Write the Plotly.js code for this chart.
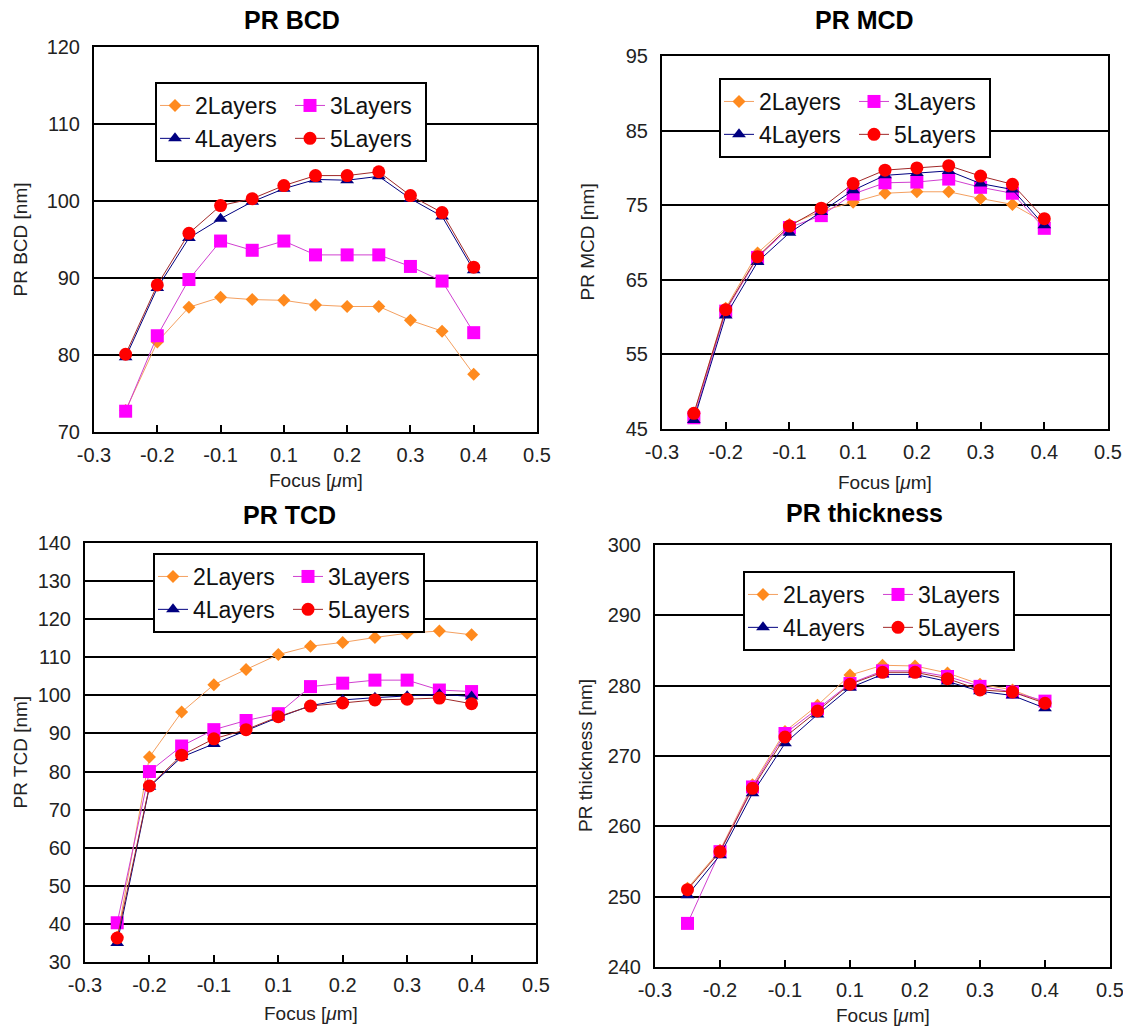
<!DOCTYPE html>
<html>
<head>
<meta charset="utf-8">
<script src="https://cdn.plot.ly/plotly-3.0.1.min.js"></script>
<style>
  html, body { margin: 0; padding: 0; background: #fff; }
  #chart { width: 1123px; height: 1027px; }
</style>
</head>
<body>
<div id="chart"></div>
<script>
// ---------- data ----------
// x positions on the (unevenly labelled) focus axis, in tick-index units
const focusPos = [0.5, 1, 1.5, 2, 2.5, 3, 3.5, 4, 4.5, 5, 5.5, 6];
const tickPos = [0, 1, 2, 3, 4, 5, 6, 7];
const tickLabels = ['-0.3', '-0.2', '-0.1', '0.1', '0.2', '0.3', '0.4', '0.5'];
const seriesNames = ['2Layers', '3Layers', '4Layers', '5Layers'];

// PR BCD [nm]
const bcd2 = [72.8, 81.7, 86.2, 87.5, 87.2, 87.1, 86.5, 86.3, 86.3, 84.5, 83.1, 77.5];
const bcd3 = [72.7, 82.5, 89.8, 94.8, 93.6, 94.8, 93.0, 93.0, 93.0, 91.5, 89.6, 82.9];
const bcd4 = [79.7, 88.7, 95.2, 97.7, 99.9, 101.6, 102.8, 102.7, 103.2, 100.3, 98.0, 91.0];
const bcd5 = [80.1, 89.1, 95.8, 99.4, 100.3, 102.0, 103.3, 103.3, 103.8, 100.7, 98.5, 91.4];

// PR MCD [nm]
const mcd2 = [47.0, 61.2, 68.6, 72.4, 74.2, 75.4, 76.6, 76.8, 76.8, 75.9, 75.1, 72.7];
const mcd3 = [46.5, 60.8, 68.0, 72.0, 73.6, 76.5, 78.0, 78.1, 78.5, 77.4, 76.6, 71.9];
const mcd4 = [46.2, 60.2, 67.4, 71.3, 74.1, 77.0, 79.0, 79.3, 79.6, 77.9, 77.1, 72.3];
const mcd5 = [47.1, 61.0, 68.1, 72.2, 74.6, 77.9, 79.7, 80.0, 80.3, 78.9, 77.8, 73.2];

// PR TCD [nm]
const tcd2 = [36.5, 83.8, 95.6, 102.8, 106.8, 110.7, 112.9, 113.9, 115.2, 116.3, 116.9, 115.9];
const tcd3 = [40.3, 80.0, 86.7, 91.0, 93.4, 95.2, 102.3, 103.2, 104.0, 104.0, 101.4, 101.0];
const tcd4 = [35.0, 76.0, 83.8, 87.2, 90.8, 94.2, 97.3, 98.8, 99.4, 99.8, 100.3, 99.7];
const tcd5 = [36.3, 76.2, 84.3, 88.6, 91.0, 94.4, 97.2, 98.0, 98.8, 99.0, 99.3, 97.8];

// PR thickness [nm]
const thk2 = [251.2, 256.6, 265.9, 273.5, 277.2, 281.5, 282.9, 282.8, 281.8, 280.2, 279.4, 277.6];
const thk3 = [246.2, 256.4, 265.6, 273.2, 276.7, 280.3, 282.1, 282.1, 281.3, 279.9, 279.1, 277.8];
const thk4 = [250.2, 255.9, 264.7, 271.8, 275.9, 279.7, 281.6, 281.6, 280.6, 279.2, 278.6, 276.8];
const thk5 = [251.0, 256.4, 265.4, 272.7, 276.4, 280.2, 281.9, 281.9, 281.0, 279.4, 279.1, 277.5];

// ---------- styling ----------
const FONT = 'Liberation Sans, Arial, Helvetica, sans-serif';
const W = 1123, H = 1027;
const styles = [
  { marker: { symbol: 'diamond', size: 10, color: '#FF8A1E' }, line: { color: '#F4A060', width: 1 }, group: 'A' },
  { marker: { symbol: 'square', size: 13, color: '#FF00FF' }, line: { color: '#D040D0', width: 1 }, group: 'B' },
  { marker: { symbol: 'triangle-up', size: 12, color: '#000080' }, line: { color: '#000080', width: 1 }, group: 'A' },
  { marker: { symbol: 'circle', size: 13, color: '#FF0000' }, line: { color: '#A02828', width: 1 }, group: 'B' }
];

// panel boxes in page pixels: [left, right, top, bottom]
const panels = [
  { title: 'PR BCD', ytitle: 'PR BCD [nm]', data: [bcd2, bcd3, bcd4, bcd5], range: [70, 120], dtick: 10,
    box: [94, 537, 47, 432], titleX: 292, titleY: 20, xtY: 480, ytX: 20, legend: [155, 82] },
  { title: 'PR MCD', ytitle: 'PR MCD [nm]', data: [mcd2, mcd3, mcd4, mcd5], range: [45, 95], dtick: 10,
    box: [662, 1108, 56, 429], titleX: 864, titleY: 20, xtY: 482, ytX: 587, legend: [719, 78] },
  { title: 'PR TCD', ytitle: 'PR TCD [nm]', data: [tcd2, tcd3, tcd4, tcd5], range: [30, 140], dtick: 10,
    box: [85, 536, 543, 962], titleX: 289, titleY: 515, xtY: 1013, ytX: 20, legend: [153, 553] },
  { title: 'PR thickness', ytitle: 'PR thickness [nm]', data: [thk2, thk3, thk4, thk5], range: [240, 300], dtick: 10,
    box: [655, 1110, 545, 967], titleX: 864, titleY: 513, xtY: 1015, ytX: 585, legend: [743, 571] }
];

const traces = [];
const layout = {
  width: W, height: H,
  margin: { l: 0, r: 0, t: 0, b: 0 },
  paper_bgcolor: '#ffffff', plot_bgcolor: '#ffffff',
  font: { family: FONT, color: '#222' },
  showlegend: true,
  annotations: []
};

panels.forEach((p, i) => {
  const n = i + 1;
  const xa = n === 1 ? 'x' : 'x' + n;
  const ya = n === 1 ? 'y' : 'y' + n;
  const lg = n === 1 ? 'legend' : 'legend' + n;
  p.data.forEach((vals, k) => {
    const s = styles[k];
    traces.push({
      type: 'scatter', mode: 'lines+markers',
      x: focusPos, y: vals, name: seriesNames[k],
      xaxis: xa, yaxis: ya, legend: lg,
      legendgroup: 'p' + n + s.group,
      marker: Object.assign({ line: { width: 0 } }, s.marker),
      line: s.line
    });
  });
  const [l, r, t, b] = p.box;
  layout['xaxis' + (n === 1 ? '' : n)] = {
    domain: [l / W, r / W], anchor: ya,
    range: [0, 7], tickmode: 'array', tickvals: tickPos, ticktext: tickLabels,
    ticks: 'inside', ticklen: 7, tickwidth: 2, tickcolor: '#000',
    showline: true, linecolor: '#000', linewidth: 2, mirror: true,
    showgrid: false, zeroline: false, ticklabelstandoff: 4, ticklabeloverflow: 'allow',
    tickfont: { size: 20, color: '#222', family: FONT }, fixedrange: true
  };
  layout['yaxis' + (n === 1 ? '' : n)] = {
    domain: [1 - b / H, 1 - t / H], anchor: xa,
    range: p.range, dtick: p.dtick, tick0: p.range[0],
    ticks: '', showline: true, linecolor: '#000', linewidth: 2, mirror: true,
    showgrid: true, gridcolor: '#000', gridwidth: 2, zeroline: false,
    ticklabelstandoff: 8, ticklabeloverflow: 'allow',
    tickfont: { size: 20, color: '#222', family: FONT }, fixedrange: true
  };
  layout[lg] = {
    x: p.legend[0] / W, y: 1 - p.legend[1] / H, xanchor: 'left', yanchor: 'top',
    orientation: 'h', traceorder: 'grouped', tracegroupgap: 0,
    entrywidth: 90, entrywidthmode: 'pixels',
    bgcolor: '#ffffff', bordercolor: '#000', borderwidth: 2,
    font: { size: 23, color: '#111', family: FONT }, itemwidth: 30
  };
  layout.annotations.push(
    { text: '<b>' + p.title + '</b>', x: p.titleX / W, y: 1 - p.titleY / H, xref: 'paper', yref: 'paper',
      xanchor: 'center', yanchor: 'middle', showarrow: false, font: { size: 25, color: '#000', family: FONT } },
    { text: 'Focus [<i>μ</i>m]', x: ((l + r) / 2) / W, y: 1 - p.xtY / H, xref: 'paper', yref: 'paper',
      xanchor: 'center', yanchor: 'middle', showarrow: false, font: { size: 19, color: '#222', family: FONT } },
    { text: p.ytitle, x: p.ytX / W, y: 1 - ((t + b) / 2) / H, xref: 'paper', yref: 'paper', textangle: -90,
      xanchor: 'center', yanchor: 'middle', showarrow: false, font: { size: 19, color: '#222', family: FONT } }
  );
});

Plotly.newPlot('chart', traces, layout, { displayModeBar: false, staticPlot: true });
</script>
</body>
</html>
